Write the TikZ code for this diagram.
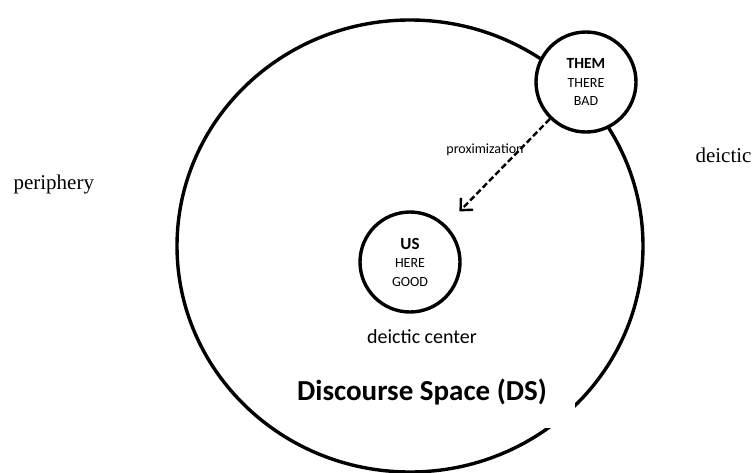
\documentclass[tikz,border=0pt]{standalone}
\usepackage{fontspec}
\setmainfont{Carlito}
\newfontfamily\serifrm{Liberation Serif}
\usetikzlibrary{shapes.geometric,arrows.meta}

\begin{document}
\begin{tikzpicture}[
	x=1pt,y=-1pt,
	ring/.style={circle,draw,line width=3.4pt,fill=white,minimum size=100pt,inner sep=0pt,align=center,font=\fontsize{14}{18.5}\selectfont},
	side/.style={anchor=base west,font=\serifrm\fontsize{21}{25}\selectfont},
	prox/.style={-{Straight Barb[length=9pt,width=17pt]},line width=2.4pt,dash pattern=on 6pt off 3pt}
]
	\useasboundingbox[fill=white] (0,0) rectangle (752,472);
	\node[ellipse,draw,line width=3.4pt,minimum width=466pt,minimum height=452pt,inner sep=0pt] (space) at (410,246) {};
	\node[rectangle,anchor=south east,fill=white,minimum width=280pt,minimum height=60pt] (gap) at (575,428) {};
	\node[anchor=base,font=\bfseries\fontsize{29}{34}\selectfont] (ds) at (422,400) {Discourse Space (DS)};
	\node[anchor=base,font=\fontsize{20}{24}\selectfont] (center) at (422,343) {deictic center};
	\node[ring] (them) at (586,82) {{\bfseries\fontsize{15.5}{18.5}\selectfont THEM}\\THERE\\BAD};
	\node[ring] (us) at (410,262) {{\bfseries\fontsize{17}{18.5}\selectfont US}\\HERE\\GOOD};
	\node[anchor=base,font=\fontsize{14}{17}\selectfont] (label) at (485,153) {proximization};
	\draw[prox,shorten >=19pt] (them) -- (us);
	\node[side] (periphery) at (10,189) {periphery};
	\node[side] (deictic) at (692,162) {deictic};
\end{tikzpicture}
\end{document}
